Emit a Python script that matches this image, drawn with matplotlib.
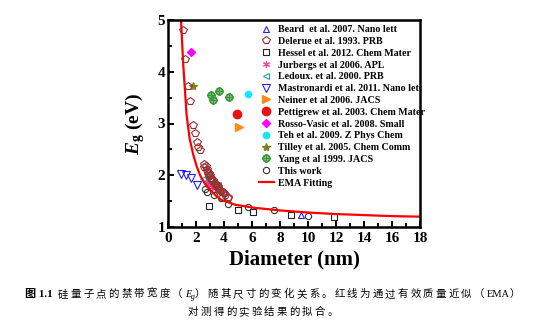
import matplotlib
matplotlib.use("Agg")
import matplotlib.pyplot as plt

plt.rcParams['font.family'] = ['Liberation Serif', 'DejaVu Serif']
plt.rcParams['mathtext.fontset'] = 'custom'
plt.rcParams['mathtext.it'] = 'Liberation Serif:bold:italic'
plt.rcParams['mathtext.rm'] = 'Liberation Serif:bold'
plt.rcParams['mathtext.bf'] = 'Liberation Serif:bold'

# data (diameter nm, band gap eV)
beard_d = [9.5]
beard_e = [1.24]

delerue_d = [1.05, 1.22, 1.41, 1.58, 1.82, 1.94, 2.06, 2.15, 2.30,
             2.55, 2.60, 2.70, 2.75, 2.80, 2.85, 2.90, 2.95, 3.00, 3.05, 3.10,
             3.15, 3.20, 3.30, 3.35, 3.40, 3.50, 3.55, 3.60, 3.70, 3.80, 3.90,
             4.00, 4.10, 4.25, 4.30]
delerue_e = [4.81, 4.24, 3.72, 3.44, 2.97, 2.81, 2.65, 2.55, 2.49,
             2.22, 2.15, 2.18, 2.08, 2.12, 2.02, 2.05, 1.98, 2.00, 1.93, 1.95,
             1.88, 1.90, 1.85, 1.82, 1.84, 1.78, 1.80, 1.74, 1.72, 1.70, 1.67,
             1.65, 1.62, 1.58, 1.56]

hessel_d = [2.90, 5.02, 6.05, 8.79, 11.88]
hessel_e = [1.41, 1.33, 1.29, 1.23, 1.19]

jurbergs_d = [2.75, 2.95, 3.15, 3.35, 3.55, 3.75, 3.95]
jurbergs_e = [1.86, 1.82, 1.78, 1.75, 1.72, 1.69, 1.66]

ledoux_d = [2.50, 2.80, 3.00, 3.30, 3.60]
ledoux_e = [1.92, 1.96, 1.90, 1.86, 1.81]

mastronardi_d = [0.90, 1.30, 1.65, 2.05]
mastronardi_e = [2.02, 2.00, 1.94, 1.82]

neiner_d = [5.05]
neiner_e = [2.93]

pettigrew_d = [4.90]
pettigrew_e = [3.19]

rosso_d = [1.63]
rosso_e = [4.39]

teh_d = [5.69]
teh_e = [3.57]

tilley_d = [1.79]
tilley_e = [3.72]

yang_d = [3.06, 3.23, 3.66, 4.38]
yang_e = [3.56, 3.46, 3.63, 3.51]

thiswork_d = [2.62, 2.78, 3.30, 3.80, 4.31, 5.74, 7.60, 9.98]
thiswork_e = [1.73, 1.68, 1.62, 1.56, 1.44, 1.38, 1.32, 1.21]

ema_d = [0.93, 1.09, 1.33, 1.55, 1.81, 2.05, 2.29, 2.60, 3.00, 3.40, 3.83,
         4.40, 4.80, 6.20, 8.00, 10.0, 12.0, 14.0, 16.0, 18.0]
ema_e = [5.00, 4.13, 3.16, 2.70, 2.39, 2.17, 2.00, 1.85, 1.72, 1.61, 1.52,
         1.47, 1.43, 1.37, 1.32, 1.28, 1.25, 1.23, 1.21, 1.20]

fig = plt.figure(figsize=(5.54, 3.29), dpi=100)
ax = fig.add_axes([168/554, 1-227/329, 252/554, 207/329])

ms = 5
ax.plot(beard_d, beard_e, ls='none', marker='^', mfc='none', mec='#2020ff', ms=ms, mew=0.8,
        label='Beard  et al. 2007. Nano lett')
ax.plot(delerue_d, delerue_e, ls='none', marker='p', mfc='none', mec='#9a3030', ms=ms+0.5, mew=0.8,
        label='Delerue et al. 1993. PRB', zorder=4)
ax.plot(hessel_d, hessel_e, ls='none', marker='s', mfc='none', mec='#222222', ms=ms-0.5, mew=0.8,
        label='Hessel et al. 2012. Chem Mater')
ax.plot(jurbergs_d, jurbergs_e, ls='none', marker=(6, 2, 0), mec='#ff40a0', ms=ms, mew=0.8,
        label='Jurbergs et al 2006. APL')
ax.plot(ledoux_d, ledoux_e, ls='none', marker='<', mfc='none', mec='#30a0a0', ms=ms, mew=0.8,
        label='Ledoux. et al. 2000. PRB')
ax.plot(mastronardi_d, mastronardi_e, ls='none', marker='v', mfc='none', mec='#2020ff', ms=ms+0.5, mew=0.8,
        label='Mastronardi et al. 2011. Nano lett')
ax.plot(neiner_d, neiner_e, ls='none', marker='>', mfc='#ff8c1a', mec='#ff8c1a', ms=ms+1,
        label='Neiner et al 2006. JACS')
ax.plot(pettigrew_d, pettigrew_e, ls='none', marker='o', mfc='#ee1111', mec='#ee1111', ms=ms+1,
        label='Pettigrew et al. 2003. Chem Mater')
ax.plot(rosso_d, rosso_e, ls='none', marker='D', mfc='#ff00ff', mec='#ff00ff', ms=ms-0.5,
        label='Rosso-Vasic et al. 2008. Small')
ax.plot(teh_d, teh_e, ls='none', marker='o', mfc='#10e8ff', mec='#10e8ff', ms=ms-0.5,
        label='Teh et al. 2009. Z Phys Chem')
ax.plot(tilley_d, tilley_e, ls='none', marker='*', mfc='#808020', mec='#808020', ms=ms+1,
        label='Tilley et al. 2005. Chem Comm')
ax.plot(yang_d, yang_e, ls='none', marker=r'$\oplus$', mfc='#3a9a3a', mec='#3a9a3a', ms=ms,
        label='Yang et al 1999. JACS')
ax.plot(thiswork_d, thiswork_e, ls='none', marker='o', mfc='none', mec='#333333', ms=ms-0.5, mew=0.8,
        label='This work')
ax.plot(ema_d, ema_e, color='#ff0000', lw=1.6, label='EMA Fitting')

ax.set_xlim(0, 18)
ax.set_ylim(1, 5)
ax.set_xticks(range(0, 19, 2))
ax.set_xticks(range(1, 19, 2), minor=True)
ax.set_yticks([1, 2, 3, 4, 5])
ax.set_yticks([1.5, 2.5, 3.5, 4.5], minor=True)
ax.tick_params(which='both', direction='in', top=False, right=False, width=1.4,
               labelsize=11, pad=2)
ax.tick_params(axis='x', pad=3.5)
ax.tick_params(which='major', length=4)
ax.tick_params(which='minor', length=3)
for lab in ax.get_xticklabels() + ax.get_yticklabels():
    lab.set_fontweight('bold')
for sp in ax.spines.values():
    sp.set_linewidth(1.8)

ax.set_xlabel('Diameter (nm)', fontsize=15, fontweight='bold', labelpad=3)
ax.set_ylabel(r'$E_{\rm g}$ (eV)', fontsize=14, fontweight='bold')
ax.yaxis.set_label_coords(-0.085, 0.5)

leg = ax.legend(loc='upper left', bbox_to_anchor=(0.36, 0.975), frameon=False,
                prop={'family': 'Liberation Serif', 'weight': 'bold', 'size': 7.2},
                handlelength=1.5, handletextpad=0.45, labelspacing=0.28,
                borderpad=0, borderaxespad=0, numpoints=1)

# caption below the chart
cap_family = ['Liberation Serif', 'Noto Sans CJK SC']
renderer = fig.canvas.get_renderer()
W, H = fig.bbox.width, fig.bbox.height


def put_line(pieces, y_px, x_left=None, x_center=None):
    texts = []
    for s, kw, gap, dy in pieces:
        chars = list(s) if gap else [s]
        for c in chars:
            t = fig.text(0, 0, c, family=cap_family, va='baseline', ha='left', **kw)
            texts.append((t, gap, dy))
    widths = [t.get_window_extent(renderer).width + gap for t, gap, dy in texts]
    total = sum(widths)
    x = x_left if x_left is not None else x_center - total / 2
    for (t, gap, dy), w in zip(texts, widths):
        t.set_position((x / W, 1 - (y_px + dy) / H))
        x += w


g = 2.3
line1 = [
    ('图 1.1', {'fontsize': 8, 'fontweight': 'bold'}, 0, 0),
    ('  ', {'fontsize': 7.5}, 0, 0),
    ('硅量子点的禁带宽度（', {'fontsize': 7.5}, g, 0),
    ('E', {'fontsize': 7.5, 'fontstyle': 'italic'}, 0, 0),
    ('g', {'fontsize': 5.5, 'fontstyle': 'italic'}, 0, 2),
    ('）随其尺寸的变化关系。红线为通过有效质量近似（', {'fontsize': 7.5}, g, 0),
    ('EMA', {'fontsize': 7.5}, 0, 0),
    ('）', {'fontsize': 7.5}, g, 0),
]
line2 = [
    ('对测得的实验结果的拟合。', {'fontsize': 7.5}, g, 0),
]
put_line(line1, 297, x_left=25)
put_line(line2, 315, x_center=264)

fig.savefig('out.png', dpi=100)
